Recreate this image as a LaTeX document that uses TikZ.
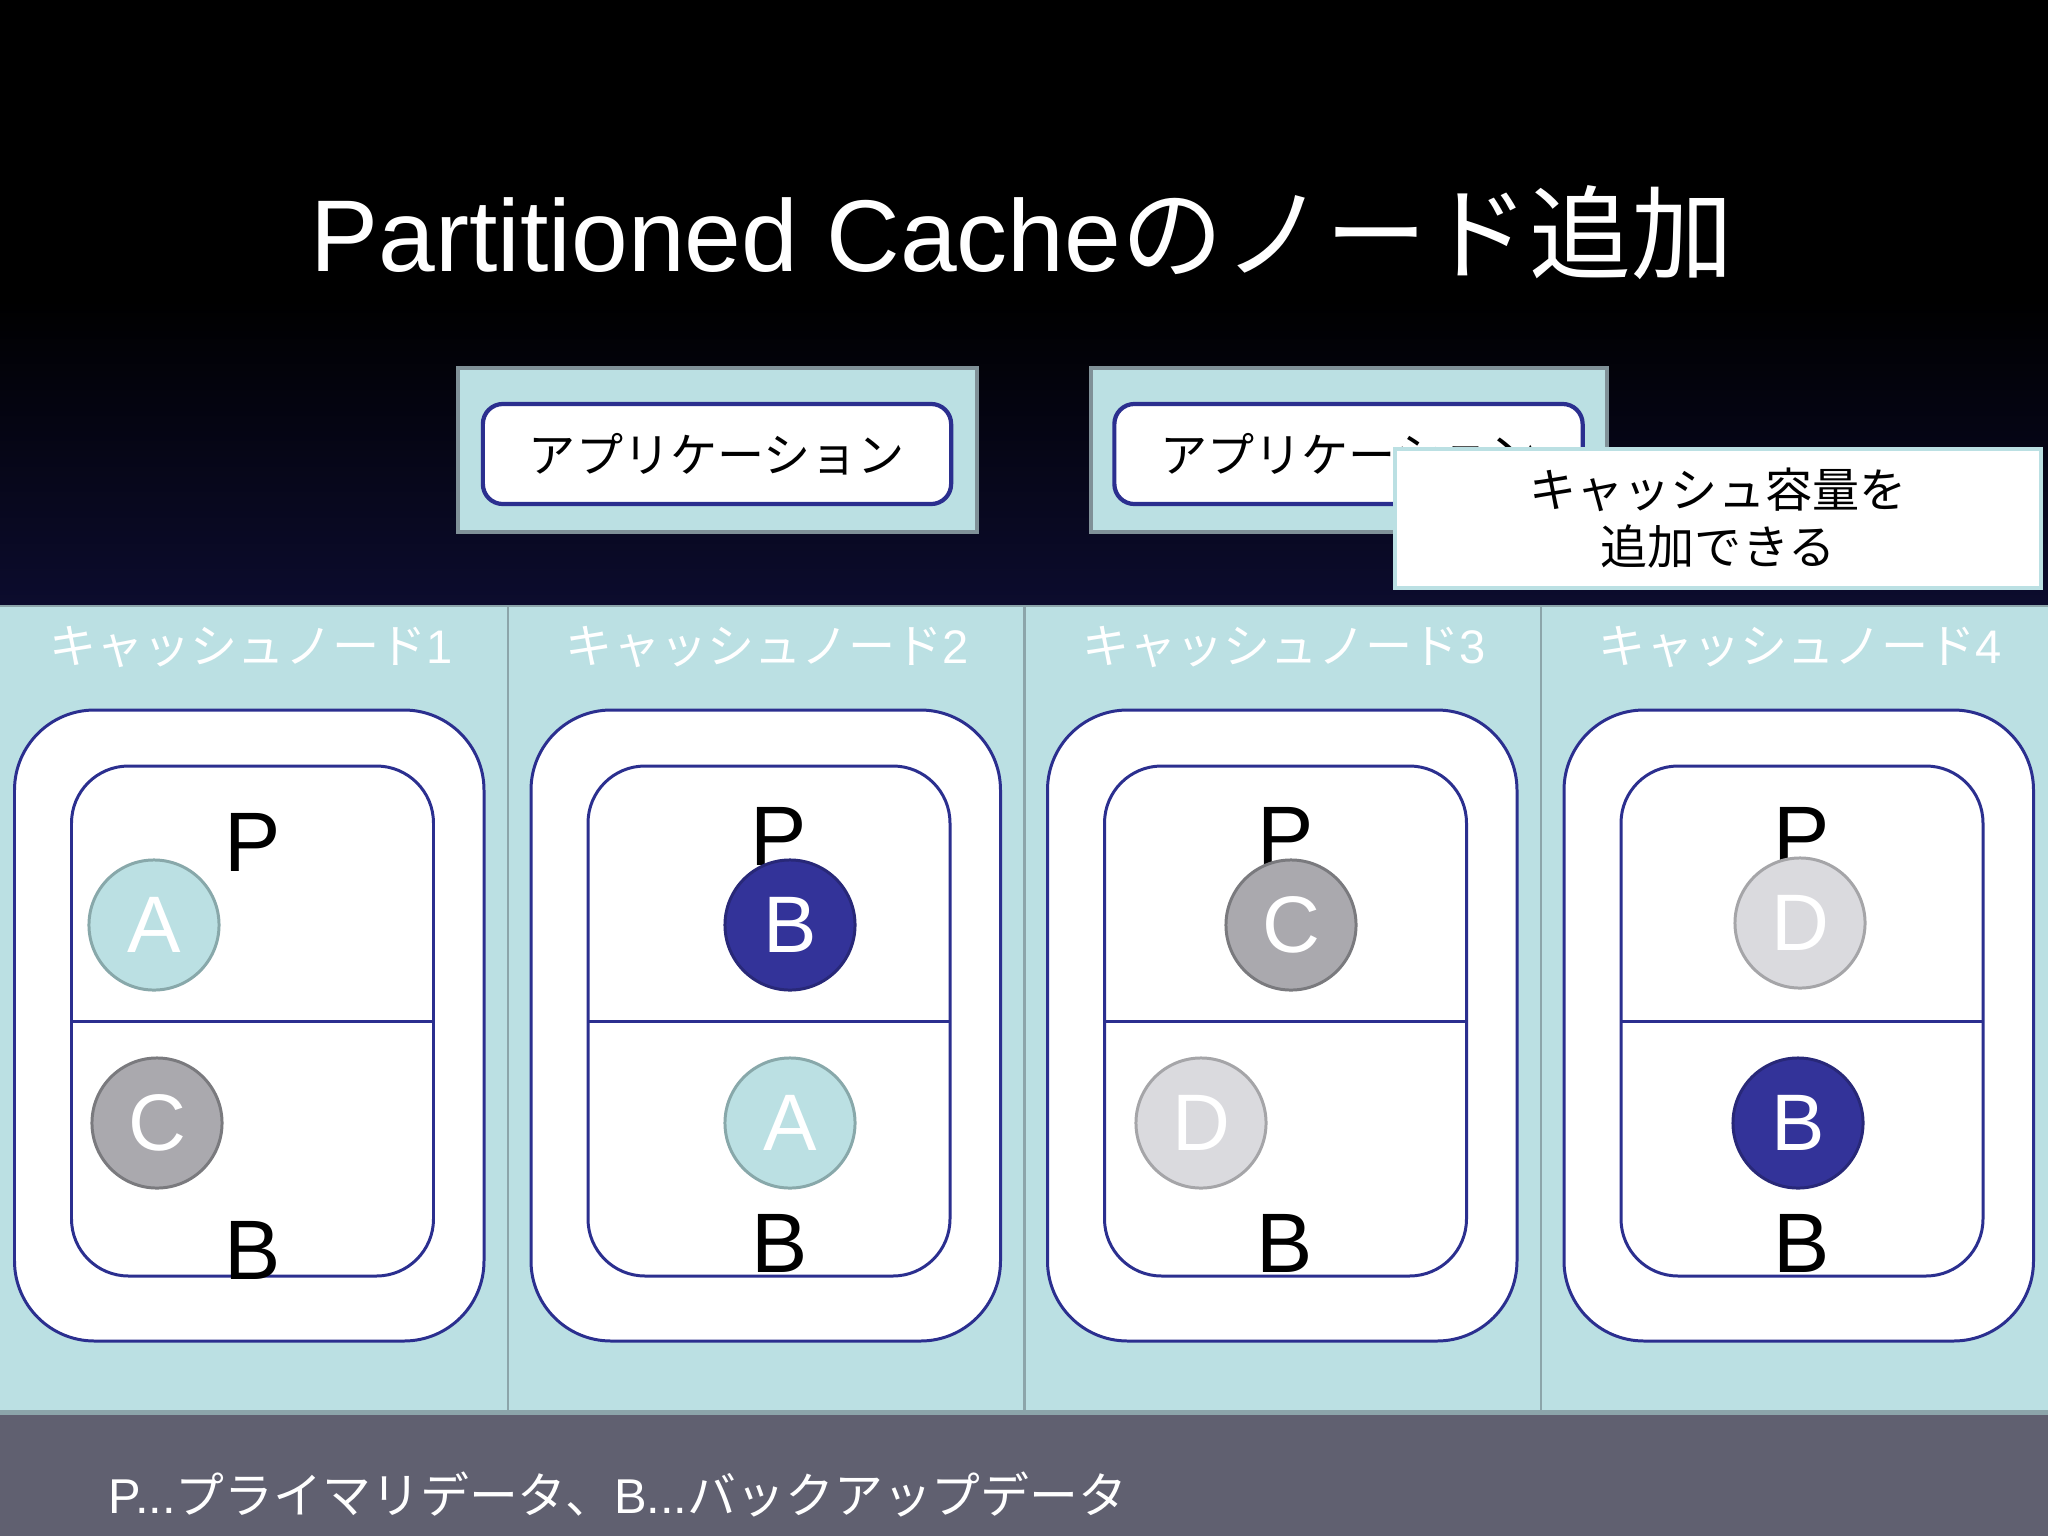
\documentclass[tikz,border=0pt]{standalone}
\usepackage{fontspec}
\setmainfont{Liberation Sans}
\newfontfamily\jp{Noto Sans CJK JP}
\definecolor{cyanbg}{RGB}{187,224,227}
\definecolor{navyline}{RGB}{43,47,143}
\definecolor{panelgray}{RGB}{140,165,170}
\definecolor{appgray}{RGB}{128,145,152}
\definecolor{bandgray}{RGB}{96,96,112}
\definecolor{navybg}{RGB}{12,12,46}
\definecolor{cAfill}{RGB}{187,224,227}
\definecolor{cAline}{RGB}{136,168,170}
\definecolor{cBfill}{RGB}{51,51,153}
\definecolor{cBline}{RGB}{40,40,120}
\definecolor{cCfill}{RGB}{170,169,174}
\definecolor{cCline}{RGB}{122,122,126}
\definecolor{cDfill}{RGB}{218,218,222}
\definecolor{cDline}{RGB}{165,165,168}
\tikzset{
  collabel/.style={text=white, font=\fontsize{13.4}{13.4}\selectfont, inner sep=0},
  outerbox/.style={fill=white, draw=navyline, line width=0.85pt, rounded corners=0.8cm},
  innerbox/.style={fill=white, draw=navyline, line width=0.85pt, rounded corners=0.57cm},
  pblabel/.style={text=black, font=\fontsize{24}{24}\selectfont, inner sep=0},
  circ/.style={circle, minimum size=1.3cm, inner sep=0, line width=0.85pt, text=white, font=\fontsize{22.8}{22.8}\selectfont},
  cA/.style={circ, fill=cAfill, draw=cAline},
  cB/.style={circ, fill=cBfill, draw=cBline},
  cC/.style={circ, fill=cCfill, draw=cCline},
  cD/.style={circ, fill=cDfill, draw=cDline},
  appouter/.style={fill=cyanbg, draw=appgray, line width=1pt},
  appbox/.style={fill=white, draw=navyline, line width=1.2pt, rounded corners=0.2cm, minimum width=4.68cm, minimum height=1.0cm, inner sep=0, font=\jp\fontsize{13.4}{13.4}\selectfont},
  callout/.style={fill=white, draw=cyanbg, line width=1pt, minimum width=6.46cm, minimum height=1.39cm, inner sep=0, align=center, font=\jp\fontsize{13.4}{16.2}\selectfont}
}
\begin{document}
\begin{tikzpicture}[x=0.01cm,y=-0.01cm]
\useasboundingbox (0,0) rectangle (2048,1536);
% background
\fill[black] (0,0) rectangle (2048,301);
\shade[top color=black, bottom color=navybg] (0,300) rectangle (2048,607);
% bottom band
\fill[bandgray] (0,1411) rectangle (2048,1536);
\draw[panelgray, line width=1.2pt] (0,1413) -- (2048,1413);
% panels
\filldraw[fill=cyanbg, draw=panelgray, line width=0.8pt] (-10,606) rectangle (508,1411);
\foreach \i in {0,1,2} {
  \filldraw[fill=cyanbg, draw=panelgray, line width=0.8pt] ({508+\i*516.5},606) rectangle ({508+\i*516.5+516.5},1411);
}
% title
\node[anchor=base, text=white, font=\fontsize{29}{29}\selectfont, inner sep=0] (title) at (1022,271) {Partitioned Cache{\jp のノード追加}};
% columns
\foreach \i in {1,2,3,4} {
  \pgfmathsetmacro\o{(\i-1)*516.5}
  \node[collabel] (lab\i) at (\o+251,647) {{\jp キャッシュノード}\i};
  \draw[outerbox] (\o+14.5,710) rectangle (\o+484,1341);
  \draw[innerbox] (\o+71.5,766) rectangle (\o+433.5,1276);
  \draw[navyline, line width=0.85pt] (\o+71.5,1021) -- (\o+433.5,1021);
}
% P / B labels
\node[pblabel] (p1) at (253,842) {P};
\node[pblabel] (b1) at (253,1250) {B};
\node[pblabel] (p2) at (779,836) {P};
\node[pblabel] (b2) at (780,1243) {B};
\node[pblabel] (p3) at (1286,836) {P};
\node[pblabel] (b3) at (1285,1243) {B};
\node[pblabel] (p4) at (1802,836) {P};
\node[pblabel] (b4) at (1802,1243) {B};
% circles
\node[cA] (c1a) at (154,925) {A};
\node[cC] (c1c) at (157,1123) {C};
\node[cB] (c2b) at (790,925) {B};
\node[cA] (c2a) at (790,1123) {A};
\node[cC] (c3c) at (1291,925) {C};
\node[cD] (c3d) at (1201,1123) {D};
\node[cD] (c4d) at (1800,923) {D};
\node[cB] (c4b) at (1798,1123) {B};
% application boxes
\filldraw[appouter] (458,368) rectangle (977,532);
\node[appbox] (app1) at (717,454) {アプリケーション};
\filldraw[appouter] (1091,368) rectangle (1607,532);
\node[appbox] (app2) at (1348.5,454) {アプリケーション};
% callout
\node[callout] (note) at (1718,518.5) {キャッシュ容量を\\追加できる};
% legend
\node[anchor=base west, text=white, font=\fontsize{13.9}{13.9}\selectfont, inner sep=0] (legend) at (108,1513) {P...{\jp プライマリデータ、}B...{\jp バックアップデータ}};
\end{tikzpicture}
\end{document}
